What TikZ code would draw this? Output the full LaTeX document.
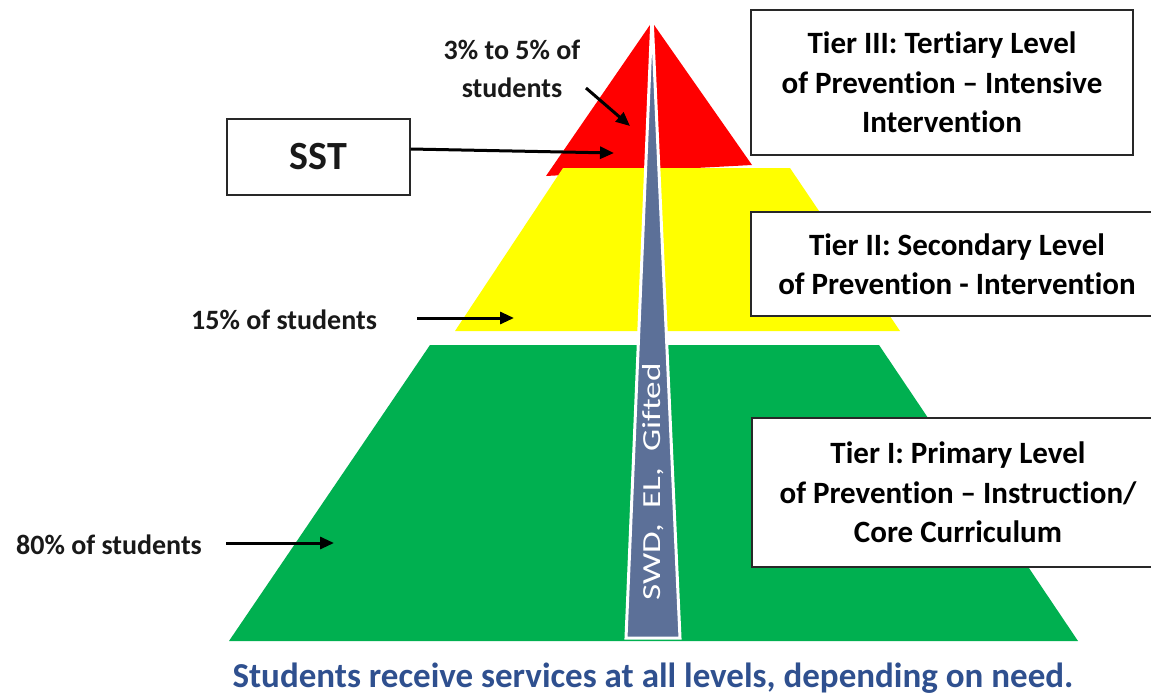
\documentclass[tikz,border=0pt]{standalone}
\usepackage{fontspec}
\usepackage{graphicx}
\setmainfont{Carlito}[Ligatures=NoCommon]
\usetikzlibrary{arrows.meta}
\definecolor{tred}{RGB}{255,0,0}
\definecolor{tyellow}{RGB}{255,255,0}
\definecolor{tgreen}{RGB}{0,176,80}
\definecolor{tspike}{RGB}{92,112,152}
\definecolor{tblue}{RGB}{47,80,143}
\definecolor{boxline}{RGB}{40,40,40}
\begin{document}
\begin{tikzpicture}[x=1pt,y=-1pt,
  tierbox/.style={draw=boxline, line width=1.3pt, fill=white, align=center,
    font=\bfseries\fontsize{31}{39.5}\selectfont, inner sep=0pt},
  lbl/.style={font=\bfseries\fontsize{28}{38}\selectfont, align=center, inner sep=0pt, text=black!90},
  arr/.style={-{Triangle[length=14pt,width=12pt]}, line width=3pt, black}]
\clip (0,0) rectangle (1151,699);
\fill[white] (0,0) rectangle (1151,699);
% pyramid tiers
\fill[tred] (652,22) -- (546,176) -- (752,165) -- cycle;
\fill[tyellow] (563,168) -- (790,168) -- (900,331) -- (455,331) -- cycle;
\fill[tgreen] (430,345) -- (879,345) -- (1078,641) -- (229,641) -- cycle;
% spike
\draw[white, line width=3pt, fill=tspike, line join=miter] (652,16) -- (626,638) -- (680,638) -- cycle;
\node[rotate=90, text=white, font=\fontsize{26}{26}\selectfont, inner sep=0pt] (swd) at (653,482)
  {\scalebox{1.35}[1]{SWD,\ \ EL,\ \ Gifted}};
% labels
\node[lbl] (l3) at (512,69) {3\% to 5\% of\\students};
\coordinate (l3s) at (586,88);
\coordinate (l3e) at (630,126);
\draw[arr] (l3s) -- (l3e);
\node[draw=boxline, line width=1.3pt, minimum width=183pt, minimum height=76pt,
  font=\bfseries\fontsize{40}{40}\selectfont, text=black!90] (sst) at (318.5,157) {SST};
\coordinate (sste) at (614,153);
\draw[arr] ([yshift=8pt]sst.east) -- (sste);
\node[lbl] (l15) at (284,320) {15\% of students};
\coordinate (a15) at (514,318);
\draw[arr] ([xshift=40pt,yshift=2pt]l15.east) -- (a15);
\node[lbl] (l80) at (109,545) {80\% of students};
\coordinate (a80) at (334,543);
\draw[arr] ([xshift=24pt,yshift=2pt]l80.east) -- (a80);
% tier boxes
\node[tierbox, minimum width=382pt, minimum height=145pt] (t3) at (942,82.5)
  {Tier III: Tertiary Level\\of Prevention -- Intensive\\Intervention};
\node[tierbox, minimum width=412pt, minimum height=104pt] (t2) at (957,264)
  {Tier II: Secondary Level\\of Prevention - Intervention};
\node[tierbox, minimum width=412pt, minimum height=149pt] (t1) at (958,492.5)
  {Tier I: Primary Level\\of Prevention -- Instruction/\\Core Curriculum};
% bottom caption
\node[font=\bfseries\fontsize{35}{35}\selectfont, text=tblue, inner sep=0pt] (cap) at (653,678)
  {Students receive services at all levels, depending on need.};
\end{tikzpicture}
\end{document}
